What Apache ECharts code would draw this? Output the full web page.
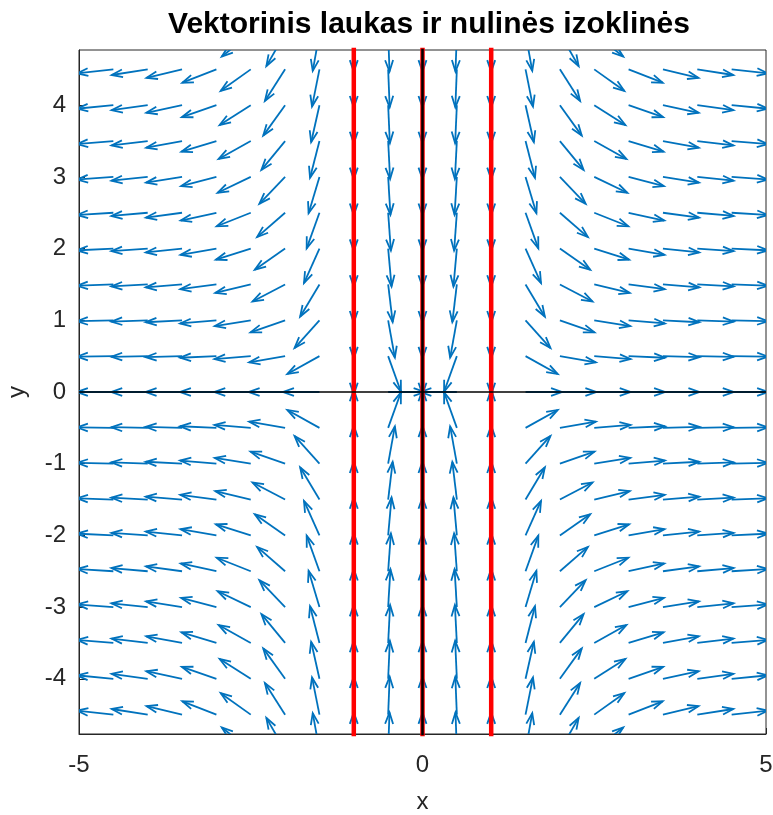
<!DOCTYPE html>
<html>
<head>
<meta charset="utf-8">
<title>Vektorinis laukas</title>
<script src="https://cdn.jsdelivr.net/npm/echarts@6/dist/echarts.min.js"></script>
<style>
  html, body { margin: 0; padding: 0; background: #fff; }
  #chart { width: 773px; height: 815px; }
</style>
</head>
<body>
<div id="chart"></div>
<script>
// grid of arrow tails (step 0.5)
var gridX = [-5, -4.5, -4, -3.5, -3, -2.5, -2, -1.5, -1, -0.5, 0, 0.5, 1, 1.5, 2, 2.5, 3, 3.5, 4, 4.5, 5]
var gridY = [-5, -4.5, -4, -3.5, -3, -2.5, -2, -1.5, -1, -0.5, 0, 0.5, 1, 1.5, 2, 2.5, 3, 3.5, 4, 4.5, 5]
// x' per column, y' per row
var fieldU = [-120, -86.625, -60, -39.375, -24, -13.125, -6, -1.875, 0, 0.375, 0, -0.375, 0, 1.875, 6, 13.125, 24, 39.375, 60, 86.625, 120]
var fieldV = [10, 9, 8, 7, 6, 5, 4, 3, 2, 1, 0, -1, -2, -3, -4, -5, -6, -7, -8, -9, -10]
// nulines
var xNullclines = [-1, 0, 1]
var blackVertical = [0]
var blackHorizontal = [0]
var xTicks = [-5, 0, 5]
var yTicks = [-4, -3, -2, -1, 0, 1, 2, 3, 4]

var arrowLen = 0.53
var arrows = []
for (var j = 0; j < gridY.length; j++) {
  for (var i = 0; i < gridX.length; i++) {
    var u = fieldU[i]
    var v = fieldV[j]
    var n = Math.sqrt(u * u + v * v)
    if (n === 0) {
      arrows.push([gridX[i], gridY[j], 0, 0])
      continue
    }
    arrows.push([gridX[i], gridY[j], u / n * arrowLen, v / n * arrowLen])
  }
}

function renderArrow(params, api) {
  var x = api.value(0)
  var y = api.value(1)
  var u = api.value(2)
  var v = api.value(3)
  var p0 = api.coord([x, y])
  var p1 = api.coord([x + u, y + v])
  var du = p1[0] - p0[0]
  var dv = p1[1] - p0[1]
  var alpha = 0.3
  var beta = 0.35
  var h1 = [p1[0] - alpha * (du + beta * dv), p1[1] - alpha * (dv - beta * du)]
  var h2 = [p1[0] - alpha * (du - beta * dv), p1[1] - alpha * (dv + beta * du)]
  var style = { stroke: '#0072BD', lineWidth: 1.8, fill: null }
  return {
    type: 'group',
    children: [
      { type: 'polyline', shape: { points: [p0, p1] }, style: style },
      { type: 'polyline', shape: { points: [h1, p1, h2] }, style: style },
    ],
  }
}

function vLine(x, color, width) {
  return {
    type: 'line',
    data: [[x, -5], [x, 5]],
    symbol: 'none',
    silent: true,
    lineStyle: { color: color, width: width },
  }
}

function hLine(y, color, width) {
  return {
    type: 'line',
    data: [[-5, y], [5, y]],
    symbol: 'none',
    silent: true,
    lineStyle: { color: color, width: width },
  }
}

var series = [
  {
    type: 'custom',
    renderItem: renderArrow,
    clip: true,
    encode: { x: 0, y: 1 },
    data: arrows,
  },
]
xNullclines.forEach(function (x) {
  series.push(vLine(x, '#ff0000', 4.5))
})
blackVertical.forEach(function (x) {
  series.push(vLine(x, '#000000', 2.5))
})
blackHorizontal.forEach(function (y) {
  series.push(hLine(y, '#000000', 1.5))
})

var textColor = '#262626'
var fontName = 'Liberation Sans'

var option = {
  animation: false,
  backgroundColor: '#fff',
  title: {
    text: 'Vektorinis laukas ir nulinės izoklinės',
    left: 424,
    textAlign: 'center',
    top: 5,
    textStyle: { fontFamily: fontName, fontSize: 30, fontWeight: 'bold', color: '#000' },
  },
  grid: {
    left: 79,
    right: 7,
    top: 50,
    bottom: 81,
    outerBoundsMode: 'none',
    containLabel: false,
    show: true,
    borderColor: textColor,
    borderWidth: 1,
  },
  xAxis: {
    type: 'value',
    min: -5,
    max: 5,
    interval: 5,
    name: 'x',
    nameLocation: 'middle',
    nameGap: 56,
    nameTextStyle: { fontFamily: fontName, fontSize: 24, color: textColor },
    axisLine: { onZero: false, lineStyle: { color: textColor, width: 1 } },
    axisTick: { inside: true, length: 6, lineStyle: { color: textColor } },
    axisLabel: {
      margin: 19,
      fontFamily: fontName,
      fontSize: 24,
      color: textColor,
      customValues: xTicks,
    },
    splitLine: { show: false },
  },
  yAxis: {
    type: 'value',
    min: -4.77,
    max: 4.77,
    name: 'y',
    nameLocation: 'middle',
    nameGap: 50,
    nameTextStyle: { fontFamily: fontName, fontSize: 24, color: textColor },
    axisLine: { onZero: false, lineStyle: { color: textColor, width: 1 } },
    axisTick: { inside: true, length: 6, lineStyle: { color: textColor }, customValues: yTicks },
    axisLabel: {
      margin: 13,
      fontFamily: fontName,
      fontSize: 24,
      color: textColor,
      customValues: yTicks,
    },
    splitLine: { show: false },
  },
  series: series,
}

var myChart = echarts.init(document.getElementById('chart'))
myChart.setOption(option)
</script>
</body>
</html>
